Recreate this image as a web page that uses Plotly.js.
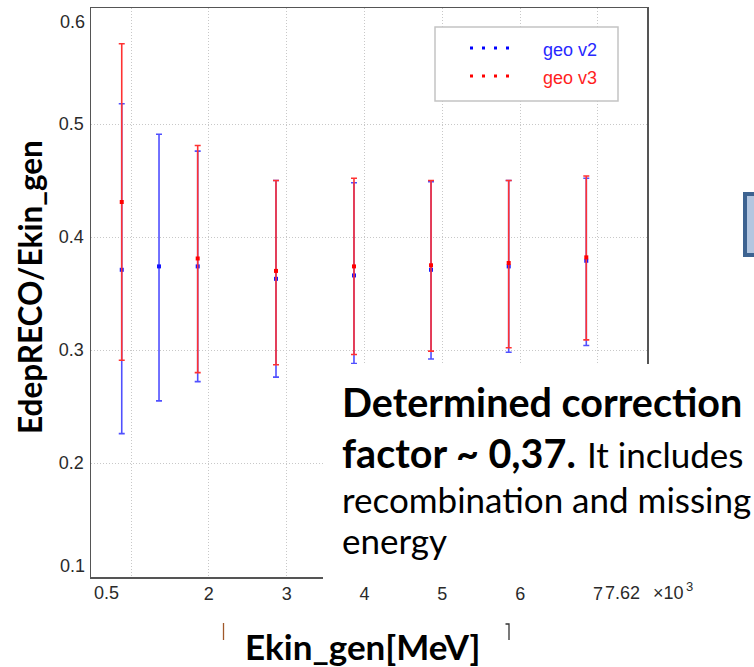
<!DOCTYPE html>
<html><head><meta charset="utf-8">
<script src="https://cdn.plot.ly/plotly-3.0.1.min.js"></script>
<style>body{margin:0;background:#fff}</style>
</head><body><div id="chart" style="width:754px;height:667px"></div>
<script>
// ---- data (x in 10^3 MeV) ----
const ekinV2 = [0.881, 1.360, 1.857, 2.863, 3.865, 4.855, 5.853, 6.850];
const ratioV2 = [0.371, 0.374, 0.374, 0.363, 0.366, 0.371, 0.374, 0.379];
const upperV2 = [0.518, 0.491, 0.476, 0.450, 0.448, 0.449, 0.450, 0.452];
const lowerV2 = [0.226, 0.255, 0.272, 0.276, 0.288, 0.292, 0.298, 0.304];

const ekinV3 = [0.881, 1.857, 2.863, 3.865, 4.855, 5.853, 6.850];
const ratioV3 = [0.431, 0.381, 0.370, 0.374, 0.375, 0.377, 0.382];
const upperV3 = [0.571, 0.481, 0.450, 0.452, 0.450, 0.450, 0.454];
const lowerV3 = [0.291, 0.280, 0.287, 0.296, 0.299, 0.302, 0.309];

const xTickVals = [1, 2, 3, 4, 5, 6, 7];
const xTickText = ['', '2', '3', '4', '5', '6', '7'];
const yTickVals = [0.2, 0.3, 0.4, 0.5];
const yTickText = ['0.2', '0.3', '0.4', '0.5'];
const seriesNames = ['geo v2', 'geo v3'];

// ---- layout helpers (pixel -> paper) ----
const W = 754, H = 667, L = 91, R = 107, T = 8, B = 90;
const PW = W - L - R, PH = H - T - B;
const px = v => (v - L) / PW;
const py = v => (H - B - v) / PH;

function errTrace(x, y, up, lo, color, barColor, name) {
  return {
    type: 'scatter', mode: 'markers', name: name, x: x, y: y,
    marker: {symbol: 'square', size: 4, color: color},
    error_y: {type: 'data', symmetric: false,
      array: up.map((u, i) => u - y[i]),
      arrayminus: lo.map((l, i) => y[i] - l),
      color: barColor, thickness: 1.6, width: 3},
    showlegend: false, cliponaxis: false
  };
}

const traces = [
  errTrace(ekinV2, ratioV2, upperV2, lowerV2, 'rgb(20,20,255)', 'rgb(80,80,255)', seriesNames[0]),
  errTrace(ekinV3, ratioV3, upperV3, lowerV3, 'rgb(255,0,0)', 'rgb(255,50,50)', seriesNames[1])
];

const tickFont = {family: 'Liberation Sans, Arial, sans-serif', size: 18, color: '#2a2a2a'};
const slide = 'Lato, Carlito, Calibri, sans-serif';

const shapes = [
  // legend box
  {type: 'rect', xref: 'paper', yref: 'paper', x0: px(435), x1: px(618), y0: py(27), y1: py(101),
   line: {color: '#c4c4c4', width: 1.5}, fillcolor: '#ffffff', layer: 'above'},
  {type: 'line', xref: 'paper', yref: 'paper', x0: px(470), x1: px(509), y0: py(48), y1: py(48),
   line: {color: 'rgb(0,0,255)', width: 3, dash: '3px,9px'}, layer: 'above'},
  {type: 'line', xref: 'paper', yref: 'paper', x0: px(470), x1: px(509), y0: py(76), y1: py(76),
   line: {color: 'rgb(255,0,0)', width: 3, dash: '3px,9px'}, layer: 'above'},
  // white text panel overlaying the lower right of the plot
  {type: 'rect', xref: 'paper', yref: 'paper', x0: px(323), x1: px(760), y0: py(364), y1: py(582),
   line: {width: 0}, fillcolor: '#ffffff', layer: 'above'},
  // fragment of a box at the right edge
  {type: 'rect', xref: 'paper', yref: 'paper', x0: px(745), x1: px(758), y0: py(194), y1: py(255),
   line: {color: '#3d6391', width: 4}, fillcolor: '#b3c6e0', layer: 'above'},
  // remnants of original axis title brackets
  {type: 'line', xref: 'paper', yref: 'paper', x0: px(223.5), x1: px(223.5), y0: py(623), y1: py(640),
   line: {color: '#a0582a', width: 1.3}, layer: 'above'},
  {type: 'path', xref: 'paper', yref: 'paper',
   path: 'M' + px(505.5) + ',' + py(624) + ' L' + px(509) + ',' + py(624) + ' L' + px(509) + ',' + py(640),
   line: {color: '#333', width: 1.3}, layer: 'above'}
];

const ann = (text, x, y, xa, ya, font, extra) => Object.assign({
  text: text, xref: 'paper', yref: 'paper', x: px(x), y: py(y),
  xanchor: xa, yanchor: ya, showarrow: false, font: font}, extra || {});

const annotations = [
  ann('geo v2', 541, 50, 'left', 'middle', {family: 'Liberation Sans, Arial', size: 18, color: 'rgb(40,40,255)'}),
  ann('geo v3', 541, 78, 'left', 'middle', {family: 'Liberation Sans, Arial', size: 18, color: 'rgb(255,30,30)'}),
  ann('0.6', 87, 22, 'right', 'middle', tickFont),
  ann('0.1', 87, 566, 'right', 'middle', tickFont),
  ann('0.5', 106, 593, 'center', 'middle', tickFont),
  ann('7.62', 642, 593, 'right', 'middle', tickFont),
  ann('×10', 651, 593, 'left', 'middle', tickFont),
  ann('3', 684, 586, 'left', 'middle', {family: tickFont.family, size: 13, color: tickFont.color}),
  ann('<b>EdepRECO/Ekin_gen</b>', 30, 287, 'center', 'middle', {family: slide, size: 31.5, color: '#000'}, {textangle: -90}),
  ann('<b>Ekin_gen[MeV]</b>', 362, 646, 'center', 'middle', {family: slide, size: 35, color: '#000'}),
  ann('<b>Determined correction</b>', 340, 401, 'left', 'middle', {family: slide, size: 39.5, color: '#000'}),
  ann('<b>factor ~ 0,37.</b>', 340, 452, 'left', 'middle', {family: slide, size: 39.5, color: '#000'}),
  ann('recombination and missing', 340, 499, 'left', 'middle', {family: slide, size: 35, color: '#000'}),
  ann('energy', 340, 540, 'left', 'middle', {family: slide, size: 35, color: '#000'})
];

const layout = {
  width: W, height: H, margin: {l: L, r: R, t: T, b: B},
  paper_bgcolor: '#fff', plot_bgcolor: '#fff', showlegend: false,
  xaxis: {range: [0.486, 7.63], tickvals: xTickVals, ticktext: xTickText, tickfont: tickFont,
    showgrid: true, gridcolor: '#c8c8c8', griddash: '1px,2px', gridwidth: 1, zeroline: false,
    showline: true, linecolor: '#555', linewidth: 1.5, mirror: true, ticks: '', ticklabelstandoff: 0},
  yaxis: {range: [0.0991, 0.6027], tickvals: yTickVals, ticktext: yTickText, tickfont: tickFont,
    showgrid: true, gridcolor: '#c8c8c8', griddash: '1px,2px', gridwidth: 1, zeroline: false,
    showline: true, linecolor: '#555', linewidth: 1.5, mirror: true, ticks: '', ticklabelstandoff: 2},
  shapes: shapes, annotations: annotations
};

Plotly.newPlot('chart', traces, layout, {staticPlot: true, displayModeBar: false}).then(gd => {
  // place " It includes" right after the bold part of line 2
  const node = gd.querySelector('.annotation[data-index="11"] text');
  let right = 340 + 300;
  if (node) { const bb = node.getBBox(); right = 340 + bb.width + 2; }
  const extra = ann('It includes', right + 9, 454, 'left', 'middle', {family: slide, size: 35, color: '#000'});
  Plotly.relayout(gd, {'annotations[14]': extra});
});
</script></body></html>
